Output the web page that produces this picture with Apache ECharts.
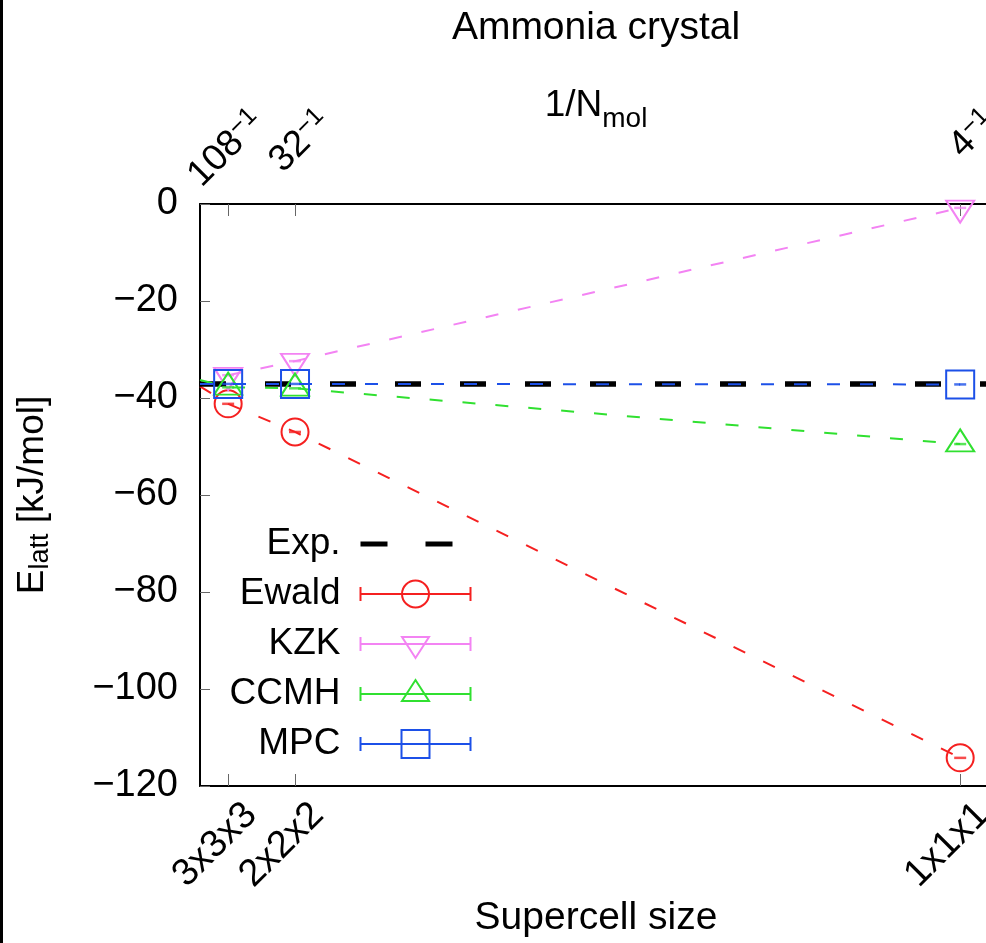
<!DOCTYPE html>
<html><head><meta charset="utf-8">
<script src="https://cdn.jsdelivr.net/npm/echarts@6/dist/echarts.min.js"></script>
<style>html,body{margin:0;padding:0;background:#fff}#c{width:986px;height:943px}</style>
</head><body><div id="c"></div>
<script>
// ---- data ----
const supercells = ['3x3x3', '2x2x2', '1x1x1'];
const nMol = [108, 32, 4];
const methods = ['Ewald', 'KZK', 'CCMH', 'MPC'];
const ewald = [-41.2, -47.0, -114.2];
const kzk = [-35.3, -32.4, -0.8];
const ccmh = [-37.8, -38.0, -49.5];
const mpc = [-37.1, -37.1, -37.2];
const limitAtZero = [-37.6, null, -36.3, -37.1]; // lines reaching the 1/N = 0 edge
const expValue = -37.1;
const expLabel = 'Exp.';
const yMin = -120, yMax = 0, yStep = 20;
const xMax = 0.27;

// ---- style ----
const F = '"Liberation Sans", Arial, Helvetica, sans-serif';
const colors = ['#f52020', '#f383f3', '#30e030', '#1c50e8'];
const symbols = ['circle', 'triangle', 'triangle', 'rect'];
const symRot = [0, 180, 0, 0];
const symSize = [27, [28, 22], [28, 22], 28];
const symOff = [[0, 0], [0, 3.7], [0, -3.7], [0, 0]];

const xTicks = nMol.map(n => 1 / n);
const series0 = [ewald, kzk, ccmh, mpc];

function idxOf(v) { return xTicks.findIndex(t => Math.abs(t - v) < 1e-9); }
const minus = s => String(s).replace('-', '\u2212');

const ghost = ' M0,0 L0,0 M110,28 L110,28';
const bar = 'M0,7 L0,21 M0,14 L110,14 M110,7 L110,21 ';
const icons = [
  'path://' + bar + 'M68.5,14 A13.5,13.5 0 1 1 41.5,14 A13.5,13.5 0 1 1 68.5,14' + ghost,
  'path://' + bar + 'M41.5,7 L68.5,7 L55,28 Z' + ghost,
  'path://' + bar + 'M55,0 L68.5,21 L41.5,21 Z' + ghost,
  'path://' + bar + 'M41,0 L69,0 L69,28 L41,28 Z' + ghost
];
const expIcon = 'path://M0,11.5 L27,11.5 L27,16.5 L0,16.5 Z M65,11.5 L92,11.5 L92,16.5 L65,16.5 Z' + ghost;

const series = [{
  name: expLabel, type: 'line', data: [], xAxisIndex: 0,
  markLine: {
    silent: true, symbol: ['none', 'none'], label: { show: false },
    lineStyle: { color: '#000', width: 5.5, type: [26, 39], cap: 'butt' },
    data: [[{ coord: [0, expValue] }, { coord: [xMax, expValue] }]]
  }
}];
methods.forEach((m, k) => {
  const data = [];
  if (limitAtZero[k] !== null) data.push({ value: [0, limitAtZero[k]], symbol: 'none' });
  series0[k].forEach((v, i) => data.push([xTicks[i], v]));
  series.push({
    name: m, type: 'line', data, z: 3 + k,
    symbol: symbols[k], symbolSize: symSize[k], symbolRotate: symRot[k], symbolOffset: symOff[k],
    showSymbol: true,
    lineStyle: { color: colors[k], width: 2, type: [13, 20] },
    itemStyle: { color: 'rgba(0,0,0,0)', borderColor: colors[k], borderWidth: 2 },
    emphasis: { disabled: true }
  });
  series.push({
    name: m + ' err', type: 'scatter', z: 3 + k,
    data: series0[k].map((v, i) => [xTicks[i], v]),
    symbol: 'rect', symbolSize: [12, 2.5],
    itemStyle: { color: colors[k] }, silent: true
  });
});

const axisBase = {
  type: 'value', min: 0, max: xMax,
  axisLine: { show: true, onZero: false, lineStyle: { color: '#000', width: 2 } },
  axisTick: { show: true, inside: true, length: 12, customValues: xTicks, lineStyle: { color: '#666', width: 1 } },
  splitLine: { show: false }
};

const chart = echarts.init(document.getElementById('c'), null, { renderer: 'canvas' });
chart.setOption({
  animation: false,
  backgroundColor: '#fff',
  textStyle: { fontFamily: F },
  title: [
    { text: 'Ammonia crystal', left: 596, textAlign: 'center', top: 9, padding: 0,
      textStyle: { fontFamily: F, fontSize: 39, fontWeight: 'normal', color: '#000' } },
    { text: '{a|1/N}{s|mol}', left: 596, textAlign: 'center', top: 78, padding: 0,
      textStyle: { fontFamily: F, fontWeight: 'normal', color: '#000',
        rich: { a: { fontFamily: F, fontSize: 37, color: '#000', lineHeight: 40 },
                s: { fontFamily: F, fontSize: 28, color: '#000', verticalAlign: 'bottom', lineHeight: 55 } } } },
    { text: 'Supercell size', left: 596, textAlign: 'center', top: 899, padding: 0,
      textStyle: { fontFamily: F, fontSize: 39, fontWeight: 'normal', color: '#000' } }
  ],
  grid: { left: 200, top: 204, width: 821, height: 582, outerBoundsMode: 'none', containLabel: false },
  xAxis: [
    Object.assign({}, axisBase, {
      position: 'bottom',
      axisLabel: {
        customValues: xTicks, rotate: 45, align: 'center', verticalAlign: 'middle', margin: 46,
        padding: [0, 37, 0, 0], fontFamily: F, fontSize: 38, color: '#000',
        formatter: v => supercells[idxOf(v)]
      }
    }),
    Object.assign({}, axisBase, {
      position: 'top',
      axisLabel: {
        customValues: xTicks, rotate: -45, align: 'right', verticalAlign: 'middle', margin: 117,
        padding: [85, 0, 0, 0], color: '#000',
        formatter: v => '{b|' + nMol[idxOf(v)] + '}{s|\u22121}',
        rich: { b: { fontFamily: F, fontSize: 37, color: '#000', lineHeight: 40 },
                s: { fontFamily: F, fontSize: 25, color: '#000', verticalAlign: 'top', lineHeight: 25 } }
      }
    })
  ],
  yAxis: {
    type: 'value', min: yMin, max: yMax, interval: yStep,
    axisLine: { show: true, onZero: false, lineStyle: { color: '#000', width: 2 } },
    axisTick: { show: true, inside: true, length: 10, lineStyle: { color: '#666', width: 1 } },
    splitLine: { show: false },
    axisLabel: { margin: 22, fontFamily: F, fontSize: 38, color: '#000', formatter: v => minus(v) },
    name: '{e|E}{s|latt}{e| [kJ/mol]}', nameLocation: 'middle', nameRotate: 90, nameGap: 146,
    nameTextStyle: { rich: {
      e: { fontFamily: F, fontSize: 37, color: '#000', lineHeight: 42 },
      s: { fontFamily: F, fontSize: 27, color: '#000', verticalAlign: 'bottom', lineHeight: 27 } } }
  },
  legend: {
    orient: 'vertical', align: 'right', right: 513, top: 524, padding: 0,
    itemGap: 10, itemWidth: 110, itemHeight: 28, selectedMode: false,
    textStyle: { fontFamily: F, fontSize: 37, color: '#000', lineHeight: 40, padding: [0, 15, 0, 0] },
    data: [{ name: expLabel, icon: expIcon, itemStyle: { color: '#000', borderWidth: 0 } }]
      .concat(methods.map((m, k) => ({ name: m, icon: icons[k],
        itemStyle: { color: 'none', borderColor: colors[k], borderWidth: 2 } })))
  },
  graphic: [{ type: 'rect', shape: { x: 0, y: 0, width: 3, height: 943 }, style: { fill: '#000' }, silent: true }],
  series
});
</script></body></html>
